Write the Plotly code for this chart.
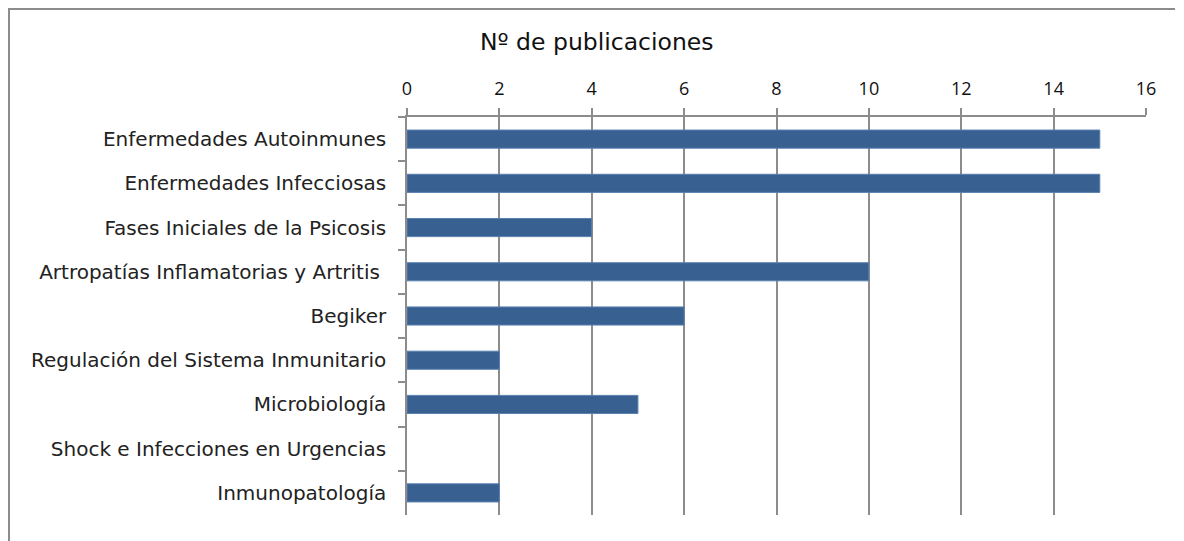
import plotly.graph_objects as go

categories = [
    "Enfermedades Autoinmunes",
    "Enfermedades Infecciosas",
    "Fases Iniciales de la Psicosis",
    "Artropatías Inflamatorias y Artritis ",
    "Begiker",
    "Regulación del Sistema Inmunitario",
    "Microbiología",
    "Shock e Infecciones en Urgencias",
    "Inmunopatología",
]
values = [15, 15, 4, 10, 6, 2, 5, 0, 2]
x_ticks = [0, 2, 4, 6, 8, 10, 12, 14, 16]
title_text = "Nº de publicaciones"

# page body has an 8px margin; work in target-image pixels and shift
OFF = 8
W, H = 1184 - OFF, 541 - OFF
L = 407 - OFF
T = 117 - OFF
R = W - (1146 - OFF)
B = H - (515 - OFF)
pw, ph = W - L - R, H - T - B

def px_x(p):
    return (p - OFF - L) / pw

def px_y(p):
    return (H - B - (p - OFF)) / ph

grey = "#8c8c8c"

fig = go.Figure()
fig.add_trace(go.Bar(
    x=values, y=categories, orientation="h",
    marker=dict(color="#386192",
                line=dict(color="#5a80b0", width=[1 if v > 0 else 0 for v in values])),
    hoverinfo="x+y",
))

fig.update_layout(
    width=W, height=H,
    margin=dict(l=L, r=R, t=T, b=B, pad=0),
    paper_bgcolor="white", plot_bgcolor="white",
    showlegend=False,
    bargap=0.59,
    font=dict(family="DejaVu Sans", color="#222222"),
    xaxis=dict(
        side="top", range=[0, 16], tickvals=x_ticks,
        showgrid=True, gridcolor=grey, gridwidth=1.5,
        showline=True, linecolor=grey, linewidth=1.5,
        ticks="outside", ticklen=7, tickcolor=grey, tickwidth=1.5,
        tickfont=dict(family="Open Sans", size=18, color="#111111"),
        ticklabelstandoff=6,
        zeroline=False, fixedrange=True,
    ),
    yaxis=dict(
        categoryorder="array", categoryarray=categories, autorange="reversed",
        showgrid=False, showline=True, linecolor=grey, linewidth=1.5,
        ticks="outside", ticklen=7, tickcolor=grey, tickwidth=1.5,
        tickson="boundaries",
        tickfont=dict(family="DejaVu Sans", size=20, color="#222222"),
        ticklabelstandoff=15,
        fixedrange=True,
    ),
    annotations=[dict(
        text=title_text, xref="paper", yref="paper",
        x=px_x(597), y=px_y(42), xanchor="center", yanchor="middle",
        showarrow=False, font=dict(family="DejaVu Sans", size=23.5, color="#111111"),
    )],
    shapes=[
        dict(type="line", xref="paper", yref="paper",
             x0=px_x(9), x1=px_x(9), y0=px_y(8), y1=px_y(545),
             line=dict(color=grey, width=2)),
        dict(type="line", xref="paper", yref="paper",
             x0=px_x(8), x1=px_x(1175), y0=px_y(9), y1=px_y(9),
             line=dict(color=grey, width=2)),
    ],
)

fig.write_html("out.html")
